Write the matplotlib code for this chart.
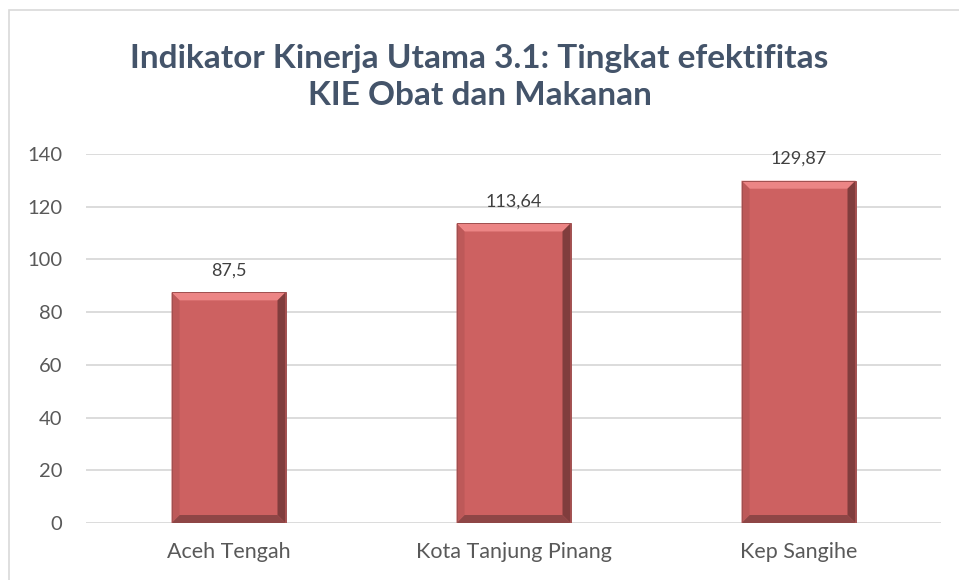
import matplotlib
matplotlib.use('Agg')
import matplotlib.pyplot as plt
from matplotlib.patches import Polygon, Rectangle

# data
kategori = ['Aceh Tengah', 'Kota Tanjung Pinang', 'Kep Sangihe']
nilai = [87.5, 113.64, 129.87]
label_nilai = ['87,5', '113,64', '129,87']
yticks = [0, 20, 40, 60, 80, 100, 120, 140]
judul = 'Indikator Kinerja Utama 3.1: Tingkat efektifitas\nKIE Obat dan Makanan'

plt.rcParams['font.family'] = ['Lato', 'DejaVu Sans']

W, H = 959, 580
fig = plt.figure(figsize=(W / 100, H / 100), dpi=100)
ax = fig.add_axes([86 / W, 57 / H, 855 / W, 369 / H])

x = list(range(len(kategori)))
bars = ax.bar(x, nilai, width=0.4, color='#CD6161', zorder=2)
ax.set_xlim(-0.5, len(kategori) - 0.5)
ax.set_ylim(0, 140)

# efek bevel pada tiap batang (ukuran dalam piksel)
sx = (len(kategori)) / 855.0
sy = 140 / 369.0
b = 8
for r in bars:
    x0, y0 = r.get_x(), r.get_y()
    x1, y1 = x0 + r.get_width(), y0 + r.get_height()
    bx, by = b * sx, b * sy
    ax.add_patch(Polygon([(x0, y1), (x1, y1), (x1 - bx, y1 - by), (x0 + bx, y1 - by)],
                         color='#EC8585', zorder=3, lw=0))
    ax.add_patch(Polygon([(x1, y1), (x1, y0), (x1 - bx, y0 + by), (x1 - bx, y1 - by)],
                         color='#803D3D', zorder=3, lw=0))
    ax.add_patch(Polygon([(x0, y0), (x1, y0), (x1 - bx, y0 + by), (x0 + bx, y0 + by)],
                         color='#8E4646', zorder=3, lw=0))
    ax.add_patch(Polygon([(x0, y1), (x0, y0), (x0 + bx, y0 + by), (x0 + bx, y1 - by)],
                         color='#BD5959', zorder=3, lw=0))
    ax.add_patch(Rectangle((x0, y0), x1 - x0, y1 - y0, fill=False,
                           edgecolor='#A05050', lw=0.7, zorder=4))

for xi, v, t in zip(x, nilai, label_nilai):
    ax.annotate(t, (xi, v), xytext=(0, 10), textcoords='offset points',
                ha='center', va='bottom', fontsize=13, color='#404040')

ax.set_yticks(yticks)
ax.set_xticks(x)
ax.set_xticklabels(kategori)
ax.tick_params(length=0, labelcolor='#595959')
ax.tick_params(axis='y', pad=17, labelsize=14.5)
ax.tick_params(axis='x', pad=14, labelsize=15.5)
ax.grid(axis='y', color='#D9D9D9', lw=1.3, zorder=0)
for s in ax.spines.values():
    s.set_visible(False)

fig.text(0.5, 1 - 77 / H, judul, ha='center', va='center', fontsize=24,
         fontweight='bold', color='#44546A', linespacing=1.3)

# bingkai grafik
fig.patches.append(Rectangle((9 / W, -0.01), 1.02, 1 - 10 / H + 0.01,
                             transform=fig.transFigure, fill=False,
                             edgecolor='#D9D9D9', lw=1.2))

fig.savefig('out.png', dpi=100)
